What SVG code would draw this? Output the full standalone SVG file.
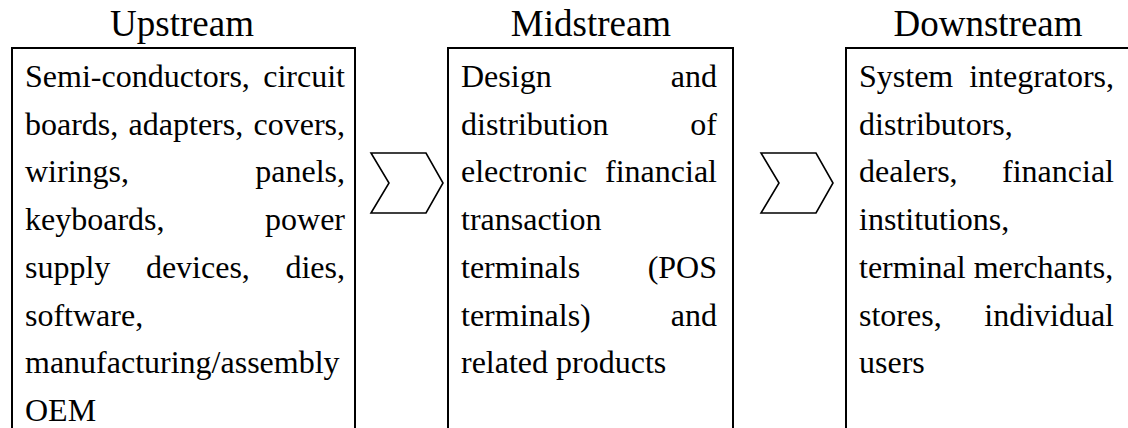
<svg xmlns="http://www.w3.org/2000/svg" width="1128" height="428" viewBox="0 0 1128 428">
<style>
.t{font-family:"Liberation Serif","Times New Roman",serif;font-size:32px;fill:#000}
.h{font-family:"Liberation Serif","Times New Roman",serif;font-size:37px;fill:#000;text-anchor:middle}
.e{text-anchor:end}
.box{fill:#fff;stroke:#000;stroke-width:2}
.chev{fill:#fff;stroke:#000;stroke-width:1.6;stroke-linejoin:miter}
</style>
<rect x="0" y="0" width="1128" height="428" fill="#fff"/>
<g id="upstream">
<text class="h" x="182" y="36">Upstream</text>
<rect class="box" x="12" y="48" width="343" height="400"/>
<text class="t" x="25" y="87">Semi-conductors,</text><text class="t e" x="345" y="87">circuit</text>
<text class="t" x="25" y="134.7">boards,</text><text class="t" x="128.6" y="134.7">adapters,</text><text class="t e" x="345" y="134.7">covers,</text>
<text class="t" x="25" y="182.4">wirings,</text><text class="t e" x="345" y="182.4">panels,</text>
<text class="t" x="25" y="230.1">keyboards,</text><text class="t e" x="345" y="230.1">power</text>
<text class="t" x="25" y="277.8">supply</text><text class="t" x="145.9" y="277.8">devices,</text><text class="t e" x="345" y="277.8">dies,</text>
<text class="t" x="25" y="325.5">software,</text>
<text class="t" x="25" y="373.2">manufacturing/assembly</text>
<text class="t" x="25" y="420.9">OEM</text>
</g>
<g id="midstream">
<text class="h" x="591" y="36">Midstream</text>
<rect class="box" x="448" y="48" width="285" height="400"/>
<text class="t" x="461" y="87">Design</text><text class="t e" x="717" y="87">and</text>
<text class="t" x="461" y="134.7">distribution</text><text class="t e" x="717" y="134.7">of</text>
<text class="t" x="461" y="182.4">electronic</text><text class="t e" x="717" y="182.4">financial</text>
<text class="t" x="461" y="230.1">transaction</text>
<text class="t" x="461" y="277.8">terminals</text><text class="t e" x="717" y="277.8">(POS</text>
<text class="t" x="461" y="325.5">terminals)</text><text class="t e" x="717" y="325.5">and</text>
<text class="t" x="461" y="373.2">related products</text>
</g>
<g id="downstream">
<text class="h" x="988" y="36">Downstream</text>
<rect class="box" x="846" y="48" width="284" height="400"/>
<text class="t" x="859" y="87">System</text><text class="t e" x="1114" y="87">integrators,</text>
<text class="t" x="859" y="134.7">distributors,</text>
<text class="t" x="859" y="182.4">dealers,</text><text class="t e" x="1114" y="182.4">financial</text>
<text class="t" x="859" y="230.1">institutions,</text>
<text class="t" x="859" y="277.8">terminal merchants,</text>
<text class="t" x="859" y="325.5">stores,</text><text class="t e" x="1114" y="325.5">individual</text>
<text class="t" x="859" y="373.2">users</text>
</g>
<g id="connectors">
<polygon class="chev" points="371,153 426,153 443,183 426,213 371,213 389,183"/>
<polygon class="chev" points="761,153 816,153 833,183 816,213 761,213 779,183"/>
</g>
</svg>
